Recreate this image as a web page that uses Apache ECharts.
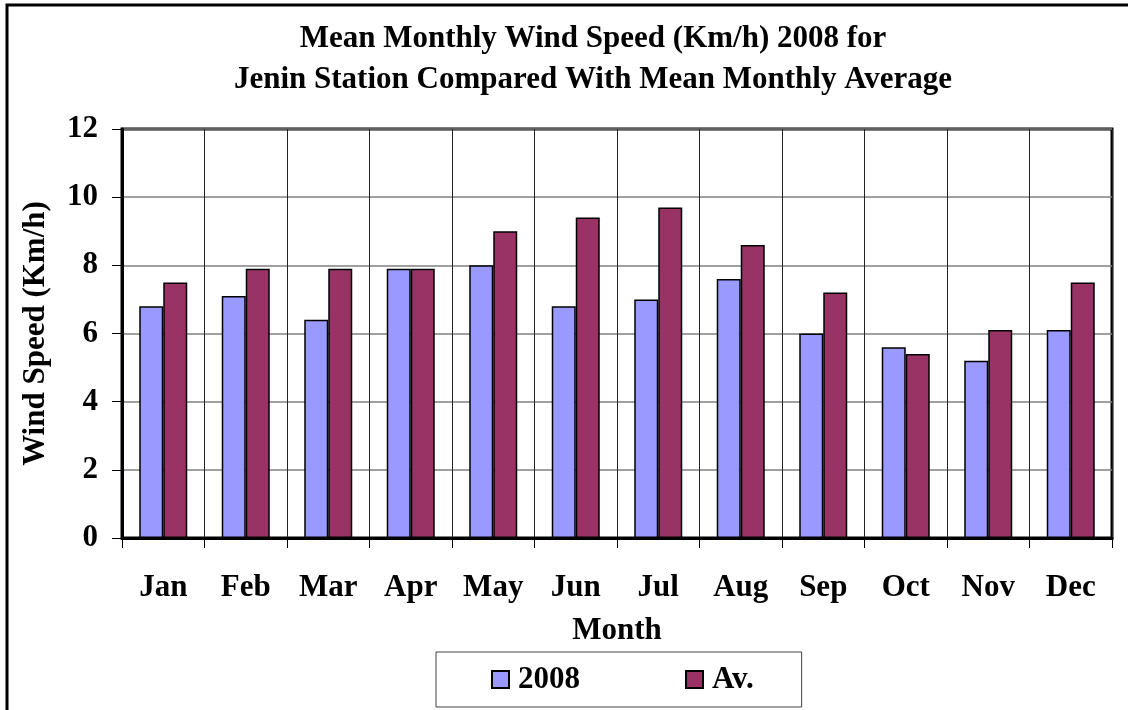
<!DOCTYPE html>
<html>
<head>
<meta charset="utf-8">
<script src="https://cdn.jsdelivr.net/npm/echarts@6/dist/echarts.min.js"></script>
<style>
  html, body { margin: 0; padding: 0; background: #fff; }
  #chart { width: 1128px; height: 710px; }
</style>
</head>
<body>
<div id="chart"></div>
<script>
// monthly wind speed
const months = ['Jan', 'Feb', 'Mar', 'Apr', 'May', 'Jun', 'Jul', 'Aug', 'Sep', 'Oct', 'Nov', 'Dec'];
const speed2008 = [6.8, 7.1, 6.4, 7.9, 8.0, 6.8, 7.0, 7.6, 6.0, 5.6, 5.2, 6.1];
const speedAv = [7.5, 7.9, 7.9, 7.9, 9.0, 9.4, 9.7, 8.6, 7.2, 5.4, 6.1, 7.5];

const font = 'Liberation Serif';
const bigText = { fontFamily: font, fontSize: 31, fontWeight: 'bold', color: '#000' };

const chart = echarts.init(document.getElementById('chart'), null, { renderer: 'canvas' });

chart.setOption({
    animation: false,
    backgroundColor: '#fff',
    textStyle: { fontFamily: font },
    graphic: [{
        // outer chart frame, runs off the right and bottom
        type: 'rect',
        shape: { x: 7, y: 5, width: 1200, height: 800 },
        style: { fill: 'none', stroke: '#000', lineWidth: 3 },
        silent: true
    }],
    title: {
        text: 'Mean Monthly Wind Speed (Km/h) 2008 for\nJenin Station Compared With Mean Monthly Average',
        left: 588,
        top: 13,
        textAlign: 'center',
        textStyle: Object.assign({}, bigText, { lineHeight: 41 })
    },
    legend: {
        left: 436,
        top: 652,
        orient: 'horizontal',
        padding: [12, 48, 12, 55],
        itemGap: 105,
        itemWidth: 17,
        itemHeight: 17,
        icon: 'rect',
        borderColor: '#444',
        borderWidth: 1,
        textStyle: Object.assign({}, bigText, { padding: [0, 0, 0, 4], lineHeight: 31 }),
        data: ['2008', 'Av.']
    },
    grid: {
        left: 122,
        right: 16,
        top: 129,
        bottom: 172,
        show: true,
        borderColor: '#000',
        borderWidth: 3
    },
    xAxis: {
        type: 'category',
        data: months,
        name: 'Month',
        nameLocation: 'middle',
        nameGap: 77,
        nameTextStyle: bigText,
        axisLine: { lineStyle: { color: '#000', width: 3 } },
        axisTick: { show: true, length: 10, lineStyle: { color: '#000', width: 1 } },
        axisLabel: Object.assign({ margin: 34 }, bigText),
        splitLine: { show: true, interval: 0, lineStyle: { color: '#222', width: 1 } }
    },
    yAxis: {
        type: 'value',
        min: 0,
        max: 12,
        interval: 2,
        name: 'Wind Speed (Km/h)',
        nameLocation: 'middle',
        nameGap: 71,
        nameTextStyle: bigText,
        axisLine: { show: true, lineStyle: { color: '#000', width: 3 } },
        axisTick: { show: true, length: 10, lineStyle: { color: '#000', width: 1 } },
        axisLabel: Object.assign({ margin: 24 }, bigText),
        splitLine: { show: true, lineStyle: { color: '#808080', width: 1.5 } }
    },
    series: [{
        name: '2008',
        type: 'bar',
        data: speed2008,
        barWidth: 24,
        barGap: '0%',
        itemStyle: { color: '#9999FF', borderColor: '#000', borderWidth: 1.5 }
    }, {
        name: 'Av.',
        type: 'bar',
        data: speedAv,
        barWidth: 24,
        barGap: '0%',
        itemStyle: { color: '#993366', borderColor: '#000', borderWidth: 1.5 }
    }]
});
</script>
</body>
</html>
